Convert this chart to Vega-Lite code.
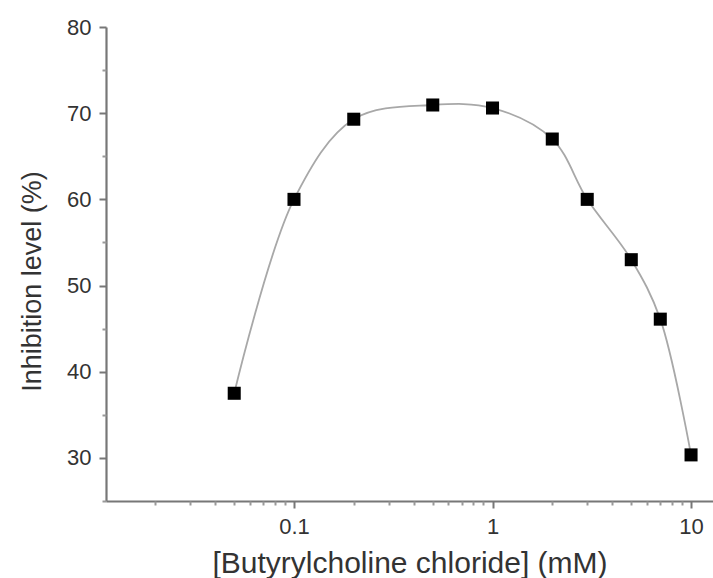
{
  "$schema": "https://vega.github.io/schema/vega-lite/v6.json",
  "width": 607,
  "height": 474,
  "autosize": {"type": "none"},
  "padding": {"left": 106, "top": 27, "right": 0, "bottom": 77},
  "background": "white",
  "config": {
    "view": {"stroke": null},
    "font": "Liberation Sans",
    "axis": {"grid": false}
  },
  "data": {
    "values": [
      {"conc": 0.05, "inhibition": 37.5},
      {"conc": 0.1, "inhibition": 60.0},
      {"conc": 0.2, "inhibition": 69.3},
      {"conc": 0.5, "inhibition": 70.95},
      {"conc": 1, "inhibition": 70.6},
      {"conc": 2, "inhibition": 67.0},
      {"conc": 3, "inhibition": 60.0},
      {"conc": 5, "inhibition": 53.0},
      {"conc": 7, "inhibition": 46.1},
      {"conc": 10, "inhibition": 30.35}
    ]
  },
  "resolve": {"axis": {"x": "independent", "y": "independent"}},
  "layer": [
    {
      "mark": {"type": "line", "interpolate": "catmull-rom", "color": "#a8a8a8", "strokeWidth": 1.8},
      "encoding": {
        "x": {
          "field": "conc", "type": "quantitative",
          "scale": {"type": "log", "domain": [0.0113, 12.9], "nice": false},
          "axis": {
            "orient": "bottom",
            "title": "[Butyrylcholine chloride] (mM)",
            "values": [0.1, 1, 10],
            "format": "~g",
            "labelFontSize": 22, "labelColor": "#333", "labelPadding": 8,
            "titleFontSize": 30, "titleFontWeight": "normal", "titleColor": "#333", "titlePadding": 11,
            "tickSize": 7, "tickWidth": 2, "tickColor": "#777",
            "domainColor": "#777", "domainWidth": 2.2
          }
        },
        "y": {
          "field": "inhibition", "type": "quantitative",
          "scale": {"domain": [25, 80], "nice": false, "zero": false},
          "axis": {
            "orient": "left",
            "title": "Inhibition level (%)",
            "values": [30, 40, 50, 60, 70, 80],
            "labelFontSize": 22, "labelColor": "#333", "labelPadding": 8,
            "titleFontSize": 27, "titleFontWeight": "normal", "titleColor": "#333", "titlePadding": 20,
            "titleY": 254,
            "tickSize": 7, "tickWidth": 2, "tickColor": "#777",
            "domainColor": "#777", "domainWidth": 2.2
          }
        }
      }
    },
    {
      "mark": {"type": "point", "opacity": 0},
      "encoding": {
        "x": {
          "field": "conc", "type": "quantitative",
          "axis": {
            "orient": "bottom", "title": null, "labels": false, "domain": false,
            "values": [0.02, 0.03, 0.04, 0.05, 0.06, 0.07, 0.08, 0.09, 0.2, 0.3, 0.4, 0.5, 0.6, 0.7, 0.8, 0.9, 2, 3, 4, 5, 6, 7, 8, 9],
            "tickSize": 4, "tickWidth": 2, "tickColor": "#999"
          }
        },
        "y": {
          "field": "inhibition", "type": "quantitative",
          "axis": {
            "orient": "left", "title": null, "labels": false, "domain": false,
            "values": [25, 35, 45, 55, 65, 75],
            "tickSize": 4, "tickWidth": 2, "tickColor": "#999"
          }
        }
      }
    },
    {
      "mark": {"type": "square", "color": "black", "filled": true, "opacity": 1, "size": 170},
      "encoding": {
        "x": {"field": "conc", "type": "quantitative", "axis": null},
        "y": {"field": "inhibition", "type": "quantitative", "axis": null}
      }
    }
  ]
}
